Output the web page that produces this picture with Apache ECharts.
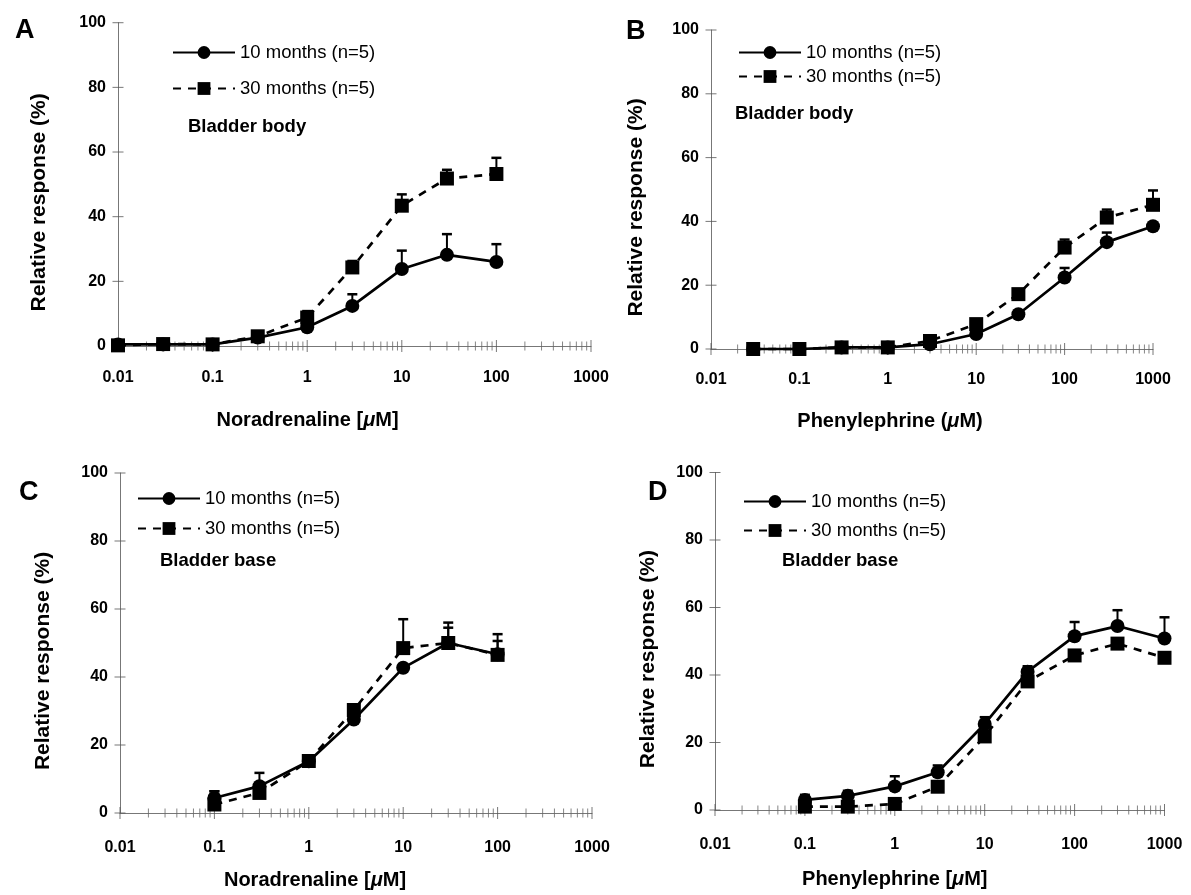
<!DOCTYPE html>
<html><head><meta charset="utf-8">
<script src="https://cdn.jsdelivr.net/npm/echarts@6/dist/echarts.min.js"></script>
<style>html,body{margin:0;padding:0;background:#fff}#c{width:1191px;height:895px}</style>
</head><body><div id="c"></div><script>
// ---------- data ----------
const xTickLabels = ['0.01','0.1','1','10','100','1000'];
const decades = [0.01,0.1,1,10,100,1000];
const minorMultipliers = [2,3,4,5,6,7,8,9];
const yTicks = [0,20,40,60,80,100];
const seriesNames = ['10 months (n=5)','30 months (n=5)'];

// Panel A: noradrenaline, bladder body
const concA  = [0.01,0.03,0.1,0.3,1,3,10,30,100];
const a10    = [0.5,0.5,0.5,2.6,5.8,12.4,23.8,28.2,26.0];
const a10sem = [0,0,0,0.5,1.5,3.6,5.7,6.4,5.5];
const a30    = [0.2,0.6,0.5,3.0,8.8,24.3,43.4,51.8,53.2];
const a30sem = [0,0,0,1,2,2,3.5,2.7,5];

// Panel B: phenylephrine, bladder body
const concB  = [0.03,0.1,0.3,1,3,10,30,100,300,1000];
const b10    = [0,0,0.5,0.5,1.5,4.7,10.9,22.4,33.5,38.5];
const b10sem = [0,0,0,0,0.5,1,1,3,3,0];
const b30    = [0,0,0.5,0.5,2.5,7.8,17.2,31.8,41.2,45.2];
const b30sem = [0,0,0,0,0.5,1,1.5,2.5,2.5,4.5];

// Panel C: noradrenaline, bladder base
const concC  = [0.1,0.3,1,3,10,30,100];
const c10    = [4.4,7.9,15.2,27.5,42.7,50.0,46.7];
const c10sem = [2,3.9,1,1.5,0,4.5,3.9];
const c30    = [2.5,5.9,15.3,30.3,48.5,50.0,46.5];
const c30sem = [3.9,0,1,1,8.5,6,6.1];

// Panel D: phenylephrine, bladder base
const concD  = [0.1,0.3,1,3,10,30,100,300,1000];
const d10    = [3,4.2,7,11.2,25.5,41,51.5,54.5,50.8];
const d10sem = [1.5,1.5,3,2,2,1.6,4.2,4.7,6.3];
const d30    = [1,1,1.8,6.9,21.8,38.1,45.8,49.3,45.1];
const d30sem = [0,0,0,0,0,0,1.5,0,0];

const letters = ['A','B','C','D'];
const tissues = ['Bladder body','Bladder body','Bladder base','Bladder base'];
const drugNames = ['{b|Noradrenaline [}{i|\u03bc}{b|M]}','{b|Phenylephrine (}{i|\u03bc}{b|M)}',
                   '{b|Noradrenaline [}{i|\u03bc}{b|M]}','{b|Phenylephrine [}{i|\u03bc}{b|M]}'];
const concs = [concA,concB,concC,concD];
const means10 = [a10,b10,c10,d10], sems10 = [a10sem,b10sem,c10sem,d10sem];
const means30 = [a30,b30,c30,d30], sems30 = [a30sem,b30sem,c30sem,d30sem];

// ---------- layout ----------
const FONT = 'Liberation Sans, Arial, Helvetica, sans-serif';
const grids = [
  {left:118, top:22.7, width:473, height:323.3},
  {left:711, top:30,   width:442, height:319},
  {left:120, top:473,  width:472, height:340},
  {left:715, top:472.5,width:449.5, height:337.5}
];
const legendPos = [
  {left:172, top:43, itemGap:17},
  {left:738, top:43, itemGap:5},
  {left:137, top:489, itemGap:11},
  {left:743, top:492, itemGap:10}
];
const tissuePos = [{left:183,top:112},{left:730,top:99},{left:155,top:546},{left:777,top:546}];
const letterPos = [{left:10,top:12},{left:621,top:13},{left:14,top:474},{left:643,top:474}];
const yNameGap = [68, 64, 66, 56];
const xNamePad = [94, 84, 82, 90];
const xLabelMargin = [24, 23, 27, 27];
const xNameGap = [64, 62, 57, 59];

function errRender(params, api){
  const x = api.value(0), y = api.value(1), e = api.value(2);
  if (!e) return;
  const p0 = api.coord([x, y]), p1 = api.coord([x, y + e]);
  const hw = 5;
  return {type:'group', children:[
    {type:'line', shape:{x1:p0[0], y1:p0[1], x2:p1[0], y2:p1[1]}, style:{stroke:'#000', lineWidth:2}},
    {type:'line', shape:{x1:p1[0]-hw, y1:p1[1], x2:p1[0]+hw, y2:p1[1]}, style:{stroke:'#000', lineWidth:2.5}}
  ]};
}

const minorTickData = [];
decades.slice(0,5).forEach(d => minorMultipliers.forEach(m => minorTickData.push([d*m, 0])));
const majorTickData = decades.map(d => [d, 0]);

const option = {
  animation:false,
  backgroundColor:'#fff',
  textStyle:{fontFamily:FONT},
  grid: grids.map(g => Object.assign({containLabel:false}, g)),
  title: [].concat(
    letters.map((t,i) => ({text:t, left:letterPos[i].left, top:letterPos[i].top,
      textStyle:{fontFamily:FONT, fontSize:27, fontWeight:'bold', color:'#000'}})),
    tissues.map((t,i) => ({text:t, left:tissuePos[i].left, top:tissuePos[i].top,
      textStyle:{fontFamily:FONT, fontSize:18.5, fontWeight:'bold', color:'#000'}}))
  ),
  legend: legendPos.map(p => ({
    data: seriesNames, orient:'vertical', left:p.left, top:p.top, itemGap:p.itemGap,
    itemWidth:62, itemHeight:16, selectedMode:false, padding:0,
    textStyle:{fontFamily:FONT, fontSize:18.5, color:'#000'}
  })),
  xAxis: grids.map((g,i) => ({
    type:'log', logBase:10, min:0.01, max:1000, gridIndex:i,
    name: drugNames[i], nameLocation:'middle', nameGap:xNameGap[i],
    nameTextStyle:{fontFamily:FONT, fontSize:20, fontWeight:'bold', color:'#000', padding:[0, xNamePad[i], 0, 0],
      rich:{b:{fontFamily:FONT, fontSize:20, fontWeight:'bold', color:'#000'},
            i:{fontFamily:FONT, fontSize:20, fontWeight:'bold', fontStyle:'italic', color:'#000'}}},
    axisLine:{show:true, lineStyle:{color:'#777', width:1}},
    axisTick:{show:false}, minorTick:{show:false}, splitLine:{show:false},
    axisLabel:{margin:xLabelMargin[i], fontFamily:FONT, fontSize:16, fontWeight:'bold', color:'#000',
      formatter: v => xTickLabels[Math.round(Math.log10(v)) + 2]}
  })),
  yAxis: grids.map((g,i) => ({
    type:'value', min:0, max:100, interval:20, gridIndex:i,
    name:'Relative response (%)', nameLocation:'middle', nameGap:yNameGap[i],
    nameTextStyle:{fontFamily:FONT, fontSize:21, fontWeight:'bold', color:'#000', padding:[0, 36, 0, 0]},
    axisLine:{show:true, lineStyle:{color:'#777', width:1}},
    axisTick:{show:false}, splitLine:{show:false},
    axisLabel:{margin:12, fontFamily:FONT, fontSize:16, fontWeight:'bold', color:'#000'}
  })),
  series: []
};

grids.forEach((g,i) => {
  const c = concs[i];
  // axis ticks crossing the axes
  option.series.push({type:'scatter', xAxisIndex:i, yAxisIndex:i, silent:true, clip:false, z:1,
    symbol:'rect', symbolSize:[1,9], itemStyle:{color:'#666'}, data:minorTickData});
  option.series.push({type:'scatter', xAxisIndex:i, yAxisIndex:i, silent:true, clip:false, z:1,
    symbol:'rect', symbolSize:[1,12], itemStyle:{color:'#555'}, data:majorTickData});
  option.series.push({type:'scatter', xAxisIndex:i, yAxisIndex:i, silent:true, clip:false, z:1,
    symbol:'rect', symbolSize:[11,1], itemStyle:{color:'#555'}, data:yTicks.map(v => [0.01, v])});
  // error bars
  option.series.push({type:'custom', xAxisIndex:i, yAxisIndex:i, silent:true, clip:false, z:3,
    renderItem:errRender, encode:{x:0, y:1},
    data:c.map((x,j) => [x, means30[i][j], sems30[i][j]])});
  option.series.push({type:'custom', xAxisIndex:i, yAxisIndex:i, silent:true, clip:false, z:3,
    renderItem:errRender, encode:{x:0, y:1},
    data:c.map((x,j) => [x, means10[i][j], sems10[i][j]])});
  // lines
  option.series.push({type:'line', name:seriesNames[1], xAxisIndex:i, yAxisIndex:i, clip:false, z:4,
    symbol:'rect', symbolSize:14, showAllSymbol:true,
    lineStyle:{color:'#000', width:2.7, type:[8,7]}, itemStyle:{color:'#000'},
    data:c.map((x,j) => [x, means30[i][j]])});
  option.series.push({type:'line', name:seriesNames[0], xAxisIndex:i, yAxisIndex:i, clip:false, z:5,
    symbol:'circle', symbolSize:14, showAllSymbol:true,
    lineStyle:{color:'#000', width:2.7}, itemStyle:{color:'#000'},
    data:c.map((x,j) => [x, means10[i][j]])});
});

const chart = echarts.init(document.getElementById('c'), null, {renderer:'canvas'});
chart.setOption(option);
</script></body></html>
